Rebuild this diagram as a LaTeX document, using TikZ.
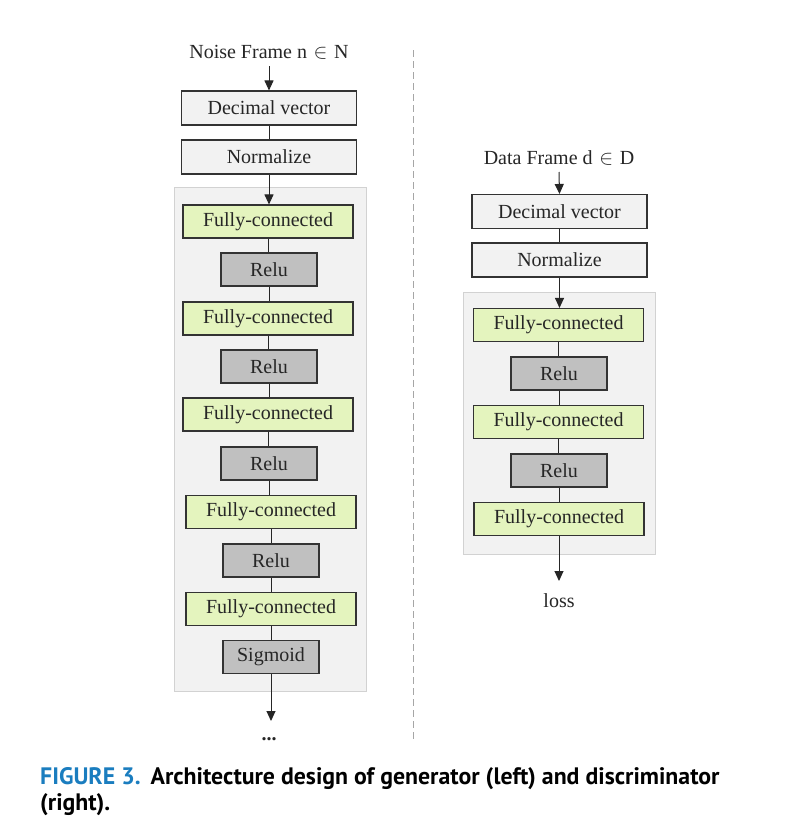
\documentclass[tikz,border=0pt]{standalone}
\usepackage{fontspec}
\setmainfont{Liberation Serif}
\newfontfamily\capfont{PT Sans}
\usetikzlibrary{arrows.meta,positioning}
\definecolor{boxgray}{HTML}{F2F2F2}
\definecolor{fcgreen}{HTML}{E4F4BE}
\definecolor{relugray}{HTML}{C0C0C0}
\definecolor{contgray}{HTML}{F2F2F2}
\definecolor{contline}{HTML}{D2D2D2}
\definecolor{capblue}{HTML}{1A7DBF}
\begin{document}
\begin{tikzpicture}[x=1pt,y=-1pt,
  base/.style={draw=black!80,line width=1.1pt,inner sep=0pt,font=\fontsize{20}{22}\selectfont,text=black!85},
  prebox/.style={base,fill=boxgray,minimum width=175pt,minimum height=34pt},
  fcbox/.style={base,fill=fcgreen,minimum width=170pt,minimum height=33pt},
  relubox/.style={base,fill=relugray,minimum width=96pt,minimum height=33pt},
  container/.style={draw=contline,fill=contgray,line width=1pt},
  conn/.style={draw=black!85,line width=1pt},
  arr/.style={conn,-{Triangle[length=10pt,width=9pt]}},
  lbl/.style={inner sep=0pt,font=\fontsize{20}{22}\selectfont,text=black!85},
  captxt/.style={anchor=base west,inner sep=0pt,font=\capfont\bfseries\fontsize{23.8}{27}\selectfont}]
\useasboundingbox (0,0) rectangle (796,838);
\fill[white] (0,0) rectangle (796,838);
% divider
\draw[black!35,line width=1pt,dash pattern=on 7pt off 4pt] (413,50) -- (413,740);
% containers
\draw[container] (174,187) rectangle (366,691);
\draw[container] (463,292) rectangle (655,554);
% left column
\node[lbl] (ntitle) at (269,52) {Noise Frame n\,\,$\in$\,\,N};
\node[prebox] (gdec) at (269,108) {Decimal vector};
\node[prebox] (gnorm) at (269,157) {Normalize};
\node[fcbox] (gfc1) at (268,221.5) {Fully-connected};
\node[relubox] (grelu1) at (269,269.5) {Relu};
\node[fcbox] (gfc2) at (268,318.5) {Fully-connected};
\node[relubox] (grelu2) at (269,366.5) {Relu};
\node[fcbox] (gfc3) at (268,414.5) {Fully-connected};
\node[relubox] (grelu3) at (269,463.5) {Relu};
\node[fcbox] (gfc4) at (271,512) {Fully-connected};
\node[relubox] (grelu4) at (271,560.5) {Relu};
\node[fcbox] (gfc5) at (271,609) {Fully-connected};
\node[relubox] (gsig) at (271,657) {Sigmoid};
\node[lbl,font=\bfseries\fontsize{20}{22}\selectfont] (gdots) at (269,739) {...};
\coordinate (gtop) at (269,66);
\coordinate (gend) at (269,721);
\draw[arr] (gtop) -- (gdec.north);
\draw[conn] (gdec) -- (gnorm);
\draw[arr] (gnorm.south) -- (gnorm.south |- gfc1.north);
\foreach \a/\b in {gfc1/grelu1,grelu1/gfc2,gfc2/grelu2,grelu2/gfc3,grelu3/gfc4,gfc4/grelu4,grelu4/gfc5,gfc5/gsig}
  \draw[conn] (\a.south) -- (\a.south |- \b.north);
\draw[conn] (gfc3.south) -- (gfc3.south |- grelu3.north);
\draw[arr] (gsig.south) -- (gsig.south |- gend);
% right column
\node[lbl] (dtitle) at (559,158) {Data Frame d\,\,$\in$\,\,D};
\node[prebox] (ddec) at (559.5,211.5) {Decimal vector};
\node[prebox] (dnorm) at (559.5,260) {Normalize};
\node[fcbox] (dfc1) at (558.5,325) {Fully-connected};
\node[relubox] (drelu1) at (559,373.5) {Relu};
\node[fcbox] (dfc2) at (558.5,422) {Fully-connected};
\node[relubox] (drelu2) at (559,470.5) {Relu};
\node[fcbox] (dfc3) at (559,519) {Fully-connected};
\node[lbl] (loss) at (559,601) {loss};
\coordinate (dtop) at (559,172);
\coordinate (dend) at (559,581);
\draw[arr] (dtop) -- (ddec.north);
\draw[conn] (ddec) -- (dnorm);
\draw[arr] (dnorm.south) -- (dnorm.south |- dfc1.north);
\foreach \a/\b in {dfc1/drelu1,drelu1/dfc2,dfc2/drelu2,drelu2/dfc3}
  \draw[conn] (\a.south) -- (\a.south |- \b.north);
\draw[arr] (dfc3.south) -- (dfc3.south |- dend);
% caption
\node[captxt] (cap1) at (40,784)
  {\textcolor{capblue}{FIGURE 3.}\hspace{10pt}Architecture design of generator (left) and discriminator};
\node[captxt] (cap2) at (40,810) {(right).};
\end{tikzpicture}
\end{document}
